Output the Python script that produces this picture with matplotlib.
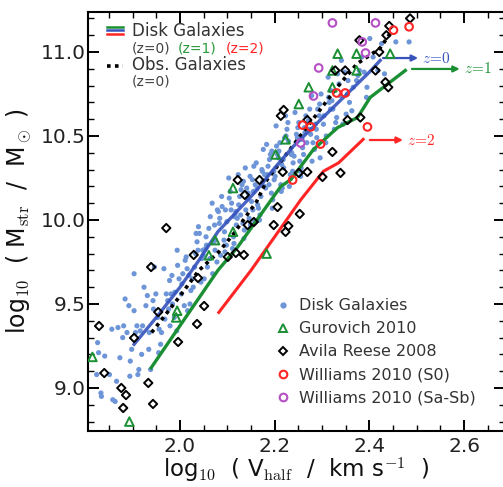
import matplotlib
matplotlib.use("Agg")
import matplotlib.pyplot as plt
from matplotlib.lines import Line2D

plt.rcParams['mathtext.fontset'] = 'cm'
plt.rcParams['font.family'] = ['DejaVu Sans']

# ---------------- data ----------------
disk_x = [
    1.824, 1.834, 1.828,
    1.858, 1.841, 1.851, 1.856,
    1.866, 1.879, 1.863, 1.873, 1.869,
    1.895, 1.884, 1.894, 1.888, 1.898, 1.881,
    1.911, 1.916, 1.906, 1.919, 1.903, 1.913, 1.909,
    1.935, 1.924, 1.934, 1.928, 1.938, 1.921, 1.931,
    1.956, 1.946, 1.959, 1.943, 1.953, 1.949, 1.955, 1.944,
    1.974, 1.968, 1.978, 1.961, 1.971, 1.976, 1.966, 1.979,
    1.983, 1.993, 1.989, 1.995, 1.984, 1.994, 1.988, 1.998, 1.981,
    2.011, 2.016, 2.006, 2.019, 2.003, 2.013, 2.009, 2.015, 2.004,
    2.034, 2.028, 2.038, 2.021, 2.031, 2.036, 2.026, 2.039, 2.023, 2.033,
    2.049, 2.055, 2.044, 2.054, 2.048, 2.058, 2.041, 2.051, 2.056, 2.046,
    2.079, 2.063, 2.073, 2.069, 2.075, 2.064, 2.074, 2.068, 2.078, 2.061, 2.071,
    2.096, 2.086, 2.099, 2.083, 2.093, 2.089, 2.095, 2.084, 2.094, 2.088, 2.098, 2.081,
    2.111, 2.116, 2.106, 2.119, 2.103, 2.113, 2.109, 2.115, 2.104, 2.114, 2.108, 2.118,
    2.121, 2.131, 2.136, 2.126, 2.139, 2.123, 2.133, 2.129, 2.135, 2.124, 2.134, 2.128, 2.138,
    2.146, 2.159, 2.143, 2.153, 2.149, 2.155, 2.144, 2.154, 2.148, 2.158, 2.141, 2.151, 2.156,
    2.164, 2.174, 2.168, 2.178, 2.161, 2.171, 2.176, 2.166, 2.179, 2.163, 2.173, 2.169, 2.175,
    2.198, 2.181, 2.191, 2.196, 2.186, 2.199, 2.183, 2.193, 2.189, 2.195, 2.184, 2.194, 2.188,
    2.203, 2.213, 2.209, 2.215, 2.204, 2.214, 2.208, 2.218, 2.201, 2.211, 2.216, 2.206, 2.219,
    2.228, 2.238, 2.221, 2.231, 2.236, 2.226, 2.239, 2.223, 2.233, 2.229, 2.235, 2.224,
    2.254, 2.248, 2.258, 2.241, 2.251, 2.256, 2.246, 2.259, 2.243, 2.253, 2.249, 2.255,
    2.264, 2.274, 2.268, 2.278, 2.261, 2.271, 2.276, 2.266, 2.279, 2.263, 2.273,
    2.289, 2.295, 2.284, 2.294, 2.288, 2.298, 2.281, 2.291, 2.296, 2.286,
    2.319, 2.303, 2.313, 2.309, 2.315, 2.304, 2.314, 2.308, 2.318,
    2.321, 2.331, 2.336, 2.326, 2.339, 2.323, 2.333, 2.329,
    2.355, 2.344, 2.354, 2.348, 2.358, 2.341, 2.351,
    2.376, 2.366, 2.379, 2.363, 2.373,
    2.389, 2.395, 2.384, 2.394,
    2.408, 2.418, 2.401,
    2.432, 2.426,
    2.456, 2.484, 1.826, 1.833, 1.903, 1.892,
]
disk_y = [
    9.08, 8.95, 9.21,
    8.93, 9.19, 9.08, 9.35,
    9.04, 9.30, 8.92, 9.18, 9.36,
    9.16, 9.53, 9.07, 9.33, 9.23, 9.37,
    9.08, 9.34, 9.33, 9.20, 9.46, 9.11, 9.37,
    9.33, 9.60, 9.23, 9.49, 9.11, 9.37, 9.55,
    9.35, 9.72, 9.26, 9.52, 9.42, 9.56, 9.21, 9.47,
    9.52, 9.41, 9.64, 9.33, 9.56, 9.47, 9.71, 9.37,
    9.67, 9.34, 9.57, 9.73, 9.50, 9.82, 9.42, 9.65, 9.56,
    9.76, 9.46, 9.68, 9.67, 9.56, 9.78, 9.49, 9.71, 9.62,
    9.92, 9.60, 9.82, 9.50, 9.72, 9.87, 9.65, 9.96, 9.58, 9.80,
    9.79, 9.90, 9.63, 9.83, 9.82, 9.72, 9.92, 9.65, 9.85, 9.77,
    10.06, 9.77, 9.97, 9.68, 9.88, 10.02, 9.82, 10.10, 9.75, 9.95, 9.87,
    10.06, 9.79, 9.99, 9.98, 9.88, 10.08, 9.81, 10.01, 9.93, 10.14, 9.85, 10.05,
    9.83, 10.03, 10.17, 9.97, 10.25, 9.90, 10.10, 10.02, 10.13, 9.86, 10.06, 10.05,
    10.01, 10.21, 9.94, 10.14, 10.06, 10.27, 9.98, 10.18, 9.89, 10.09, 10.23, 10.03, 10.31,
    10.01, 10.21, 10.13, 10.24, 9.97, 10.17, 10.16, 10.06, 10.26, 9.99, 10.19, 10.11, 10.32,
    10.09, 10.29, 10.00, 10.20, 10.34, 10.14, 10.42, 10.07, 10.27, 10.19, 10.30, 10.03, 10.23,
    10.29, 10.19, 10.39, 10.12, 10.32, 10.24, 10.45, 10.16, 10.36, 10.07, 10.27, 10.41, 10.21,
    10.56, 10.21, 10.41, 10.33, 10.44, 10.17, 10.37, 10.36, 10.26, 10.46, 10.19, 10.39, 10.31,
    10.58, 10.29, 10.49, 10.20, 10.40, 10.54, 10.34, 10.62, 10.27, 10.47, 10.39, 10.50,
    10.29, 10.49, 10.48, 10.38, 10.58, 10.31, 10.51, 10.43, 10.64, 10.35, 10.55, 10.26,
    10.52, 10.66, 10.46, 10.74, 10.39, 10.59, 10.51, 10.62, 10.35, 10.55, 10.54,
    10.49, 10.69, 10.42, 10.62, 10.54, 10.75, 10.46, 10.66, 10.37, 10.57,
    10.77, 10.57, 10.85, 10.50, 10.70, 10.62, 10.73, 10.46, 10.66,
    10.71, 10.61, 10.81, 10.54, 10.74, 10.66, 10.87, 10.58,
    10.83, 10.57, 10.75, 10.88, 10.70, 10.95, 10.63,
    10.86, 10.79, 10.89, 10.65, 10.83,
    10.88, 10.79, 10.97, 10.73,
    10.97, 10.89, 11.08,
    10.87, 11.05,
    11.06, 11.06, 9.27, 8.97, 9.68, 9.49,
]

gurovich_x = [2.333, 2.373, 2.444, 2.322, 2.373, 2.272, 2.322, 2.251, 2.223, 2.202,
              2.112, 2.112, 2.074, 2.061, 2.183, 1.994, 1.992, 1.893, 1.815]
gurovich_y = [10.99, 10.99, 10.99, 10.89, 10.89, 10.79, 10.79, 10.69, 10.48, 10.39,
              10.19, 9.93, 9.88, 9.79, 9.80, 9.46, 9.42, 8.80, 9.185]

avila_x = [2.486, 2.442, 2.436, 2.379, 2.421, 2.349, 2.328, 2.413, 2.434, 2.440,
           2.219, 2.213, 2.269, 2.354, 2.381, 2.322, 2.339, 2.301, 2.269, 2.251,
           2.217, 2.122, 2.168, 2.137, 2.206, 2.253, 2.229, 2.198, 2.223, 2.156,
           2.143, 1.971, 2.118, 2.135, 2.101, 2.029, 1.939, 2.038, 1.954, 2.036,
           2.051, 1.996, 1.829, 1.903, 1.840, 1.876, 1.886, 1.933, 1.880, 1.943]
avila_y = [11.20, 11.155, 11.10, 11.07, 11.00, 10.89, 10.89, 10.89, 10.82, 10.79,
           10.655, 10.62, 10.595, 10.595, 10.61, 10.405, 10.28, 10.256, 10.286, 10.28,
           10.286, 10.238, 10.238, 10.149, 10.077, 10.036, 9.964, 9.97, 9.929, 9.988,
           9.97, 9.952, 9.804, 9.792, 9.78, 9.792, 9.72, 9.655, 9.452, 9.381,
           9.488, 9.274, 9.369, 9.298, 9.089, 9.00, 8.958, 9.03, 8.881, 8.905]

will_s0_x = [2.451, 2.484, 2.331, 2.349, 2.396, 2.259, 2.276, 2.297, 2.238]
will_s0_y = [11.13, 11.15, 10.756, 10.756, 10.554, 10.565, 10.554, 10.452, 10.238]

will_sa_x = [2.322, 2.413, 2.385, 2.392, 2.293, 2.282, 2.255]
will_sa_y = [11.173, 11.173, 11.06, 10.994, 10.905, 10.738, 10.458]

z0_x = [1.903, 1.95, 2.00, 2.04, 2.08, 2.12, 2.16, 2.20, 2.24, 2.28, 2.32, 2.36, 2.40, 2.423]
z0_y = [9.26, 9.42, 9.60, 9.76, 9.93, 10.05, 10.17, 10.31, 10.44, 10.55, 10.66, 10.77, 10.88, 10.95]

z1_x = [1.939, 2.08, 2.122, 2.213, 2.234, 2.282, 2.333, 2.375, 2.402, 2.476]
z1_y = [9.12, 9.70, 9.84, 10.20, 10.24, 10.42, 10.55, 10.61, 10.73, 10.89]

z2_x = [2.082, 2.15, 2.20, 2.255, 2.303, 2.335, 2.387]
z2_y = [9.45, 9.70, 9.90, 10.12, 10.29, 10.34, 10.48]

obs_x = [1.94, 1.998, 2.04, 2.082, 2.114, 2.139, 2.162, 2.184, 2.254, 2.332, 2.374, 2.422, 2.444]
obs_y = [9.33, 9.54, 9.70, 9.81, 9.92, 10.02, 10.11, 10.24, 10.50, 10.79, 10.93, 11.02, 11.11]

legend_labels = ["Disk Galaxies", "Gurovich 2010", "Avila Reese 2008",
                 "Williams 2010 (S0)", "Williams 2010 (Sa-Sb)"]

# ---------------- colours ----------------
C_DOT = '#6d95d8'
C_BLUE = '#3552bd'
C_GREEN = '#1b8f33'
C_RED = '#ff2525'
C_MAG = '#b54fc4'
C_TXT = '#333333'

fig = plt.figure(figsize=(5.03, 4.87), dpi=100)
ax = fig.add_axes([88.3 / 503, 56 / 487, (505 - 88.3) / 503, 419 / 487])

n = min(len(disk_x), len(disk_y))
ax.scatter(disk_x[:n], disk_y[:n], s=14, color=C_DOT, edgecolors='none', zorder=2)

ax.plot(z1_x, z1_y, color=C_GREEN, lw=2.4, zorder=3)
ax.plot(z2_x, z2_y, color=C_RED, lw=2.2, zorder=3)
ax.plot(obs_x, obs_y, color='black', lw=2.6, linestyle=(0, (1.0, 1.2)), zorder=4)
ax.plot(z0_x, z0_y, color=C_BLUE, lw=2.4, zorder=4, alpha=0.9)

ax.scatter(gurovich_x, gurovich_y, marker='^', s=38, facecolors='none',
           edgecolors=C_GREEN, linewidths=1.4, zorder=5)
ax.scatter(avila_x, avila_y, marker='D', s=18, facecolors='none',
           edgecolors='black', linewidths=1.4, zorder=5)
ax.scatter(will_s0_x, will_s0_y, marker='o', s=30, facecolors='none',
           edgecolors=C_RED, linewidths=1.5, zorder=5)
ax.scatter(will_sa_x, will_sa_y, marker='o', s=30, facecolors='none',
           edgecolors=C_MAG, linewidths=1.5, zorder=5)

# arrows with redshift labels
arrows = [((2.429, 10.964), (2.503, 10.964), C_BLUE, r'$z\!=\!0$', 2.512),
          ((2.490, 10.899), (2.591, 10.899), C_GREEN, r'$z\!=\!1$', 2.600),
          ((2.401, 10.476), (2.471, 10.476), C_RED, r'$z\!=\!2$', 2.480)]
for (x0, y0), (x1, y1), c, lab, xt in arrows:
    ax.annotate('', xy=(x1, y1), xytext=(x0, y0),
                arrowprops=dict(arrowstyle='-|>', color=c, lw=1.6,
                                mutation_scale=9, shrinkA=0, shrinkB=0))
    ax.text(xt, y0, lab, color=c, fontsize=11, va='center', ha='left')

# axes
ax.set_xlim(1.8063, 2.6866)
ax.set_ylim(8.744, 11.238)
ax.set_xticks([2.0, 2.2, 2.4, 2.6])
ax.set_yticks([9.0, 9.5, 10.0, 10.5, 11.0])
ax.set_xticks([1.85, 1.9, 1.95, 2.05, 2.1, 2.15, 2.25, 2.3, 2.35, 2.45, 2.5, 2.55, 2.65], minor=True)
ax.set_yticks([8.8, 8.9, 9.1, 9.2, 9.3, 9.4, 9.6, 9.7, 9.8, 9.9, 10.1, 10.2, 10.3, 10.4,
               10.6, 10.7, 10.8, 10.9, 11.1, 11.2], minor=True)
ax.tick_params(which='both', direction='in', top=True, right=True, colors='black',
               labelcolor='#222222')
ax.tick_params(which='major', length=8, width=1.4, labelsize=14.5)
ax.tick_params(which='minor', length=4, width=1.0)
ax.tick_params(axis='x', which='major', pad=4)
ax.tick_params(axis='y', which='major', pad=2)
for sp in ax.spines.values():
    sp.set_linewidth(1.5)

ax.set_xlabel(r'log$_{10}$  ( V$_{\rm half}$  /  km s$^{-1}$  )', fontsize=16.5,
              color='#111111', labelpad=0)
ax.set_ylabel(r'log$_{10}$  ( M$_{\rm str}$  /  M$_\odot$ )', fontsize=17,
              color='#111111', labelpad=5)

# top-left legend (drawn by hand)
tr = ax.transAxes
for yy, c in [(0.965, C_GREEN), (0.956, C_BLUE), (0.947, C_RED)]:
    ax.add_line(Line2D([0.045, 0.083], [yy, yy], color=c, lw=1.8, transform=tr))
ax.text(0.105, 0.955, 'Disk Galaxies', transform=tr, fontsize=12, color=C_TXT, va='center')
ax.text(0.105, 0.912, '(z=0)', transform=tr, fontsize=10, color='#444444', va='center')
ax.text(0.215, 0.912, '(z=1)', transform=tr, fontsize=10, color='#2a9a3a', va='center')
ax.text(0.330, 0.912, '(z=2)', transform=tr, fontsize=10, color=C_RED, va='center')
ax.add_line(Line2D([0.045, 0.083], [0.871, 0.871], color='black', lw=2.6,
                   linestyle=(0, (1.0, 1.2)), transform=tr))
ax.text(0.105, 0.874, 'Obs. Galaxies', transform=tr, fontsize=12, color=C_TXT, va='center')
ax.text(0.105, 0.833, '(z=0)', transform=tr, fontsize=10, color='#444444', va='center')

# bottom-right legend
handles = [
    Line2D([], [], marker='o', linestyle='none', markersize=3.5, color=C_DOT),
    Line2D([], [], marker='^', linestyle='none', markersize=6, markerfacecolor='none',
           markeredgecolor=C_GREEN, markeredgewidth=1.4),
    Line2D([], [], marker='D', linestyle='none', markersize=4.5, markerfacecolor='none',
           markeredgecolor='black', markeredgewidth=1.4),
    Line2D([], [], marker='o', linestyle='none', markersize=5.5, markerfacecolor='none',
           markeredgecolor=C_RED, markeredgewidth=1.5),
    Line2D([], [], marker='o', linestyle='none', markersize=5.5, markerfacecolor='none',
           markeredgecolor=C_MAG, markeredgewidth=1.5),
]
leg = ax.legend(handles, legend_labels, loc='lower left', bbox_to_anchor=(0.425, 0.035),
                frameon=False, fontsize=11.5, handlelength=0.8, handletextpad=0.6,
                labelspacing=0.5, borderpad=0.2)
for t in leg.get_texts():
    t.set_color(C_TXT)

fig.savefig('out.png', dpi=100)
